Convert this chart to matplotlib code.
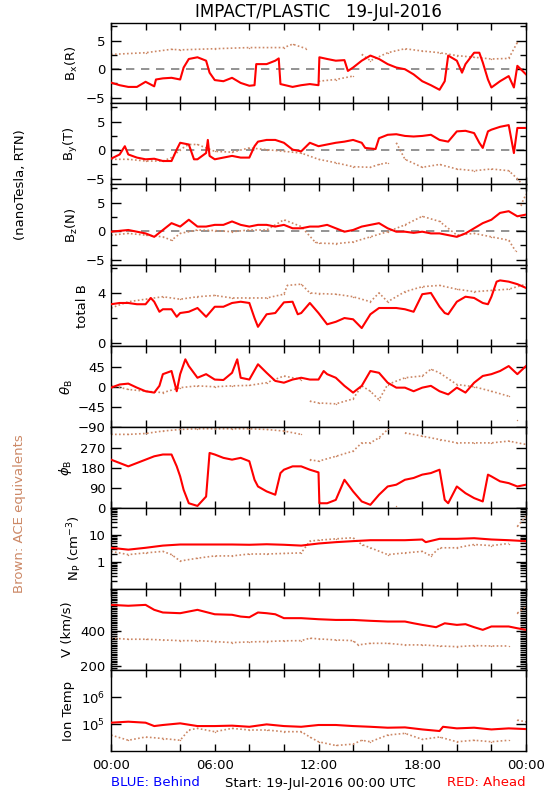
import numpy as np
import matplotlib
matplotlib.use("Agg")
import matplotlib.pyplot as plt
from matplotlib.ticker import FixedLocator, MultipleLocator, LogLocator, NullFormatter, NullLocator, FuncFormatter

plt.rcParams['font.family'] = 'DejaVu Sans'
plt.rcParams['font.size'] = 9.5

RED = '#ff0000'
BROWN = '#cc8866'

# --- STEREO-A (red) and ACE (brown), hours since 19-Jul-2016 00:00 ---
bx_t = [0, 0.5, 1, 1.5, 2, 2.5, 2.6, 3, 3.5, 4, 4.2, 4.5, 5, 5.5, 5.7, 6, 6.5, 7, 7.5, 8, 8.3, 8.4, 9, 9.5, 9.7,
        9.8, 10.5, 11, 11.5, 12, 12.05, 12.5, 13, 13.5, 13.7, 14, 14.5, 15, 15.5, 16, 16.5, 17, 17.5, 18, 18.5,
        19, 19.3, 19.5, 20, 20.3, 20.5, 21, 21.3, 21.5, 21.8, 22, 22.5, 23, 23.3, 23.5, 24]
bx_sta = [-2.35, -2.8, -3.1, -3.1, -2.2, -3.0, -1.8, -1.6, -1.5, -1.8, 0.3, 1.8, 2.1, 1.5, -0.6, -1.9, -2.1, -1.5,
          -2.4, -2.9, -2.8, 0.9, 0.9, 1.5, 1.9, -2.6, -3.1, -2.8, -2.6, -2.8, 2.1, 1.8, 1.5, 1.6, -0.3, 0.3, 1.5,
          2.4, 1.8, 0.9, 0.3, 0.0, -0.9, -2.1, -2.8, -3.6, -2.1, 2.4, 1.5, -0.6, 0.9, 2.9, 2.9, 1.2, -1.8, -3.2,
          -2.1, -1.2, -3.2, 0.6, -0.9]
bx_ace_t = [0, 2, 3.5, 4, 6, 8, 10, 10.5, 11.3, 12, 13, 14, 14.5, 15, 16, 17, 18, 19, 20, 21, 22, 23, 23.5, 24]
bx_ace = [2.6, 2.9, 3.5, 3.4, 3.6, 3.8, 3.8, 4.4, 3.6, -2.1, -1.8, -1.2, 2.6, 1.5, 2.9, 3.6, 3.2, 2.9, 2.4, 2.1,
          1.8, 1.9, 4.7, 7.9]

by_t = [0, 0.5, 0.8, 1, 1.5, 2, 2.5, 3, 3.5, 3.8, 4, 4.5, 4.8, 5, 5.5, 5.6, 5.7, 6, 6.5, 7, 7.5, 8, 8.3, 8.5, 9,
        9.5, 10, 10.5, 11, 11.5, 12, 12.5, 13, 13.5, 14, 14.5, 14.7, 15, 15.3, 15.5, 16, 16.5, 17, 17.5, 18,
        18.5, 19, 19.5, 20, 20.5, 21, 21.3, 21.5, 21.8, 22, 22.5, 23, 23.3, 23.5, 24]
by_sta = [-1.5, -0.75, 0.7, -0.75, -1.3, -1.6, -1.5, -1.9, -1.9, 0.1, 1.3, 1.0, -1.6, -1.6, -0.5, 1.8, -1.0, -1.6,
          -1.3, -1.0, -1.3, -1.3, 0.7, 1.5, 1.8, 1.8, 1.3, 0.1, -0.2, 1.3, 0.7, 1.0, 1.3, 1.5, 1.8, 1.3, 0.4, 0.3,
          0.2, 2.1, 2.7, 2.8, 2.5, 2.4, 2.5, 2.7, 1.8, 1.5, 3.3, 3.4, 3.0, 1.3, 0.4, 3.3, 3.6, 4.1, 4.4, -0.5,
          3.9, 3.9]
by_ace_t = [0, 1, 2, 3, 3.5, 4, 4.5, 5, 6, 7, 8, 9, 10, 11, 12, 13, 14, 15, 15.5, 16, 16.5, 17, 18, 19, 20, 21,
            22, 23, 23.5, 24]
by_ace = [-1.6, -1.6, -1.9, -1.9, -1.3, 0.1, 1.0, 1.0, -0.2, -0.35, 0.4, 0.1, -0.2, -0.5, -1.6, -2.2, -2.9,
          -3.0, -2.5, -2.2, 1.3, -1.6, -3.0, -2.5, -3.3, -3.6, -3.3, -3.6, -5.0, -6.8]

bz_t = [0, 1, 2, 2.5, 3, 3.5, 4, 4.5, 5, 5.5, 6, 6.5, 7, 7.5, 8, 8.5, 9, 9.5, 10, 10.5, 11, 11.5, 12, 12.5, 13,
        13.5, 14, 14.5, 15, 15.5, 16, 16.5, 17, 17.5, 18, 18.5, 19, 19.5, 20, 20.5, 21, 21.5, 22, 22.5, 23,
        23.5, 24]
bz_sta = [-0.1, 0.2, -0.4, -1.0, 0.2, 1.4, 0.8, 2.0, 0.8, 0.8, 1.1, 1.1, 1.7, 1.1, 0.8, 1.1, 1.1, 0.8, 1.1, 0.5,
          0.5, 0.8, 0.8, 1.1, 0.5, -0.1, 0.2, 0.8, 1.1, 1.4, 0.5, -0.1, -0.1, -0.3, -0.1, -0.4, -0.4, -0.7, -1.0,
          -0.4, 0.5, 1.4, 2.0, 3.2, 3.5, 2.6, 2.9]
bz_ace_t = [0, 1, 2, 3, 3.5, 4, 5, 6, 7, 8, 9, 10, 11, 11.8, 12, 13, 14, 15, 16, 17, 18, 19, 20, 21, 22, 23,
            23.4, 23.7, 24]
bz_ace = [-0.7, -0.4, -0.7, -1.0, -1.6, -0.4, 0.2, 0.1, -0.1, 0.2, 0.2, 2.0, 0.8, -1.9, -2.1, -2.2, -1.9, -1.0,
          -0.1, 1.1, 2.6, 1.7, -0.7, -0.4, -1.0, -1.6, -3.5, 4.5, 6.5]

bt_t = [0, 0.5, 1, 1.5, 2, 2.3, 2.5, 2.8, 3, 3.5, 3.8, 4, 4.5, 5, 5.5, 6, 6.5, 7, 7.5, 8, 8.3, 8.5, 9, 9.5, 10,
        10.5, 10.8, 11, 11.5, 12, 12.5, 13, 13.5, 14, 14.5, 15, 15.5, 16, 16.5, 17, 17.5, 18, 18.5, 19, 19.3,
        19.5, 20, 20.5, 21, 21.5, 21.8, 22, 22.3, 22.5, 23, 23.5, 24]
bt_sta = [3.1, 3.2, 3.2, 3.1, 3.1, 3.6, 3.3, 2.5, 2.7, 2.7, 2.1, 2.4, 2.5, 2.8, 2.1, 2.9, 2.9, 3.2, 3.3, 3.2, 2.0,
          1.3, 2.3, 2.4, 3.25, 3.3, 2.3, 2.4, 3.2, 2.4, 1.5, 1.7, 2.0, 1.9, 1.2, 2.3, 2.8, 2.8, 2.8, 2.7, 2.5,
          3.9, 4.0, 2.9, 2.4, 2.3, 3.3, 3.7, 3.6, 3.2, 3.1, 3.7, 4.9, 5.0, 4.9, 4.7, 4.4]
bt_ace_t = [0, 1, 2, 3, 4, 5, 6, 7, 8, 9, 10, 10.2, 11, 11.5, 12, 13, 14, 15, 15.5, 16, 17, 18, 19, 20, 21, 22,
            23, 24]
bt_ace = [2.8, 3.3, 3.5, 3.7, 3.5, 3.7, 3.8, 3.6, 3.6, 3.6, 3.9, 4.6, 4.7, 4.0, 3.95, 3.9, 3.7, 3.3, 4.0, 3.3,
          4.1, 4.5, 4.6, 4.3, 4.1, 4.2, 4.3, 4.7]

th_t = [0, 0.5, 1, 1.5, 2, 2.5, 2.8, 3, 3.5, 3.8, 4, 4.3, 4.5, 5, 5.5, 6, 6.5, 7, 7.3, 7.5, 8, 8.5, 9, 9.5, 10,
        10.5, 11, 11.5, 12, 12.3, 12.5, 13, 13.5, 14, 14.5, 15, 15.5, 16, 16.5, 17, 17.5, 18, 18.5, 19, 19.5,
        20, 20.5, 21, 21.5, 22, 22.5, 23, 23.5, 24]
th_sta = [-2, 5, 7, -2, -10, -13, 2, 28, 35, -10, 28, 61, 46, 20, 28, 16, 15, 31, 61, 20, 16, 50, 31, 13, 9, 16,
          20, 16, 16, 35, 28, 20, 2, -13, 2, 35, 31, 9, -2, -2, -10, -2, 2, -10, -17, -2, -13, 9, 24, 28, 35, 46,
          28, 46]
th_ace_t = [0, 1, 2, 3, 4, 5, 6, 7, 8, 9, 10, 11, 11.5, 12, 13, 14, 14.5, 15, 15.5, 16, 17, 18, 18.5, 19, 20,
            21, 22, 23, 23.5, 24]
th_ace = [3, -6, -10, -13, -2, 2, 0, 2, 3, 9, 24, 16, -32, -36, -38, -27, 2, -10, -29, 5, 20, 24, 39, 31, 5, 0,
          -10, -21, -74, 16]

ph_t = [0, 0.5, 1, 1.5, 2, 2.5, 3, 3.5, 3.8, 4, 4.2, 4.5, 5, 5.5, 5.7, 6, 6.5, 7, 7.5, 8, 8.3, 8.5, 9, 9.5, 9.8,
        10, 10.5, 11, 11.5, 12, 12.05, 12.5, 13, 13.5, 14, 14.5, 15, 15.5, 16, 16.5, 17, 17.5, 18, 18.5, 19,
        19.3, 19.5, 20, 20.5, 21, 21.5, 21.8, 22, 22.5, 23, 23.5, 24]
ph_sta = [217, 202, 187, 202, 217, 232, 240, 240, 187, 142, 82, 22, 10, 52, 247, 240, 225, 217, 225, 210, 127, 97,
          75, 60, 157, 172, 187, 187, 172, 160, 22, 22, 37, 127, 75, 30, 15, 60, 97, 105, 127, 135, 150, 157, 172,
          37, 22, 97, 67, 45, 30, 150, 142, 120, 112, 97, 105]
ph_ace_t = [0, 1, 2, 3, 4, 5, 6, 7, 8, 9, 10, 11, 11.5, 12, 13, 14, 14.5, 15, 15.5, 16, 16.5, 17, 18, 19, 20, 21,
            22, 23, 24]
ph_ace = [330, 330, 334, 345, 352, 355, 355, 355, 355, 352, 345, 330, 217, 210, 232, 255, 292, 292, 315, 352, 10,
          337, 322, 307, 292, 292, 292, 300, 285]

np_t = [0, 1, 2, 3, 4, 5, 6, 7, 8, 9, 10, 11, 12, 13, 14, 15, 16, 17, 18, 18.2, 19, 20, 21, 22, 23, 24]
np_sta = [3.4, 2.9, 3.4, 4.1, 4.5, 4.5, 4.5, 4.5, 4.4, 4.6, 4.4, 4.1, 4.9, 5.5, 6.0, 6.5, 6.5, 6.5, 6.9, 5.5, 7.3,
          7.3, 7.7, 6.9, 6.5, 6.0]
np_ace_t = [0, 1, 2, 3, 3.5, 4, 5, 6, 7, 8, 9, 10, 11, 11.5, 12, 13, 14, 14.5, 15, 16, 17, 18, 18.5, 19, 20, 21,
            22, 23, 23.5, 24]
np_ace = [2.5, 1.9, 2.2, 2.5, 1.9, 1.1, 1.4, 1.7, 1.7, 2.0, 2.0, 2.1, 2.2, 6.0, 6.5, 7.3, 8.0, 4.5, 3.4, 1.9,
          2.2, 2.5, 1.7, 3.4, 3.4, 4.5, 4.1, 4.9, 21, 50]

v_t = [0, 1, 2, 2.5, 3, 4, 5, 6, 7, 7.5, 8, 8.5, 9, 9.5, 10, 11, 12, 13, 14, 15, 16, 17, 17.5, 18, 18.8, 19.3,
       20, 20.5, 21, 21.5, 22, 23, 23.5, 24]
v_sta = [545, 540, 545, 517, 502, 498, 517, 492, 489, 479, 475, 502, 498, 492, 470, 470, 464, 460, 460, 455, 451,
         451, 441, 432, 419, 441, 432, 436, 419, 404, 423, 423, 413, 404]
v_ace_t = [0, 1, 2, 3, 4, 5, 6, 7, 8, 9, 10, 11, 11.5, 12, 13, 14, 14.3, 15, 16, 17, 18, 19, 20, 21, 22, 23,
           23.5, 24]
v_ace = [357, 351, 351, 347, 343, 343, 338, 332, 336, 338, 342, 343, 357, 353, 347, 343, 319, 328, 328, 319, 319,
         313, 309, 315, 313, 313, 498, 536]

tp_t = [0, 1, 2, 2.5, 3, 4, 5, 6, 7, 8, 9, 10, 11, 12, 13, 14, 15, 16, 17, 18, 19, 19.2, 20, 21, 22, 23, 24]
tp_sta = [1.12e5, 1.22e5, 1.12e5, 0.84e5, 0.92e5, 1.06e5, 0.84e5, 0.84e5, 0.87e5, 0.79e5, 0.97e5, 0.84e5,
          0.79e5, 0.92e5, 0.92e5, 0.84e5, 0.79e5, 0.73e5, 0.75e5, 0.63e5, 0.55e5, 0.79e5, 0.69e5, 0.73e5,
          0.63e5, 0.69e5, 0.65e5]
tp_ace_t = [0, 1, 2, 3, 4, 4.5, 5, 6, 7, 8, 9, 10, 11, 11.5, 12, 13, 14, 14.5, 15, 16, 17, 18, 19, 20, 21, 22,
            23, 23.5, 24]
tp_ace = [0.39e5, 0.25e5, 0.33e5, 0.29e5, 0.25e5, 0.60e5, 0.69e5, 0.52e5, 0.69e5, 0.60e5, 0.60e5, 0.52e5,
          0.52e5, 0.33e5, 0.22e5, 0.16e5, 0.18e5, 0.25e5, 0.22e5, 0.39e5, 0.45e5, 0.27e5, 0.33e5, 0.22e5,
          0.25e5, 0.22e5, 0.25e5, 1.4e5, 1.2e5]


def split(t, v, jump, log=False):
    # break the ACE trace where it jumps (wrap-arounds, data gaps)
    t = np.asarray(t, float)
    v = np.asarray(v, float)
    w = np.log10(v) if log else v
    idx = np.where(np.abs(np.diff(w)) > jump)[0] + 1
    return np.insert(t, idx, np.nan), np.insert(v, idx, np.nan)


b_ticks = ([-5, 0, 5], ['\u22125', '0', '5'])
panels = [
    dict(label='B$_\\mathregular{x}$(R)', sta=(bx_t, bx_sta), ace=(bx_ace_t, bx_ace), ylim=(-6.0, 8.2),
         ticks=b_ticks, minor=2.5, zero=True, jump=3, lx=80),
    dict(label='B$_\\mathregular{y}$(T)', sta=(by_t, by_sta), ace=(by_ace_t, by_ace), ylim=(-6.0, 8.2),
         ticks=b_ticks, minor=2.5, zero=True, jump=3, lx=80),
    dict(label='B$_\\mathregular{z}$(N)', sta=(bz_t, bz_sta), ace=(bz_ace_t, bz_ace), ylim=(-6.0, 8.2),
         ticks=b_ticks, minor=2.5, zero=True, jump=3, lx=80),
    dict(label='total B', sta=(bt_t, bt_sta), ace=(bt_ace_t, bt_ace), ylim=(-0.25, 6.2),
         ticks=([0, 4], ['0', '4']), minor=2, jump=1.5, lx=89),
    dict(label='$\\theta_\\mathregular{B}$', sta=(th_t, th_sta), ace=(th_ace_t, th_ace), ylim=(-90, 90),
         ticks=([-90, -45, 0, 45], ['\u221290', '\u221245', '0', '45']), jump=40, lx=75),
    dict(label='$\\phi_\\mathregular{B}$', sta=(ph_t, ph_sta), ace=(ph_ace_t, ph_ace), ylim=(0, 362),
         ticks=([0, 90, 180, 270], ['0', '90', '180', '270']), jump=90, lx=74),
    dict(label='N$_\\mathregular{P}$ (cm$^{-3}$)', sta=(np_t, np_sta), ace=(np_ace_t, np_ace), ylim=(0.1, 100),
         ticks=([1, 10], ['1', '10']), log=True, logminor=True, jump=0.5, lx=84),
    dict(label='V (km/s)', sta=(v_t, v_sta), ace=(v_ace_t, v_ace), ylim=(177, 634),
         ticks=([200, 400], ['200', '400']), minor=10, jump=100, lx=73),
    dict(label='Ion Temp', sta=(tp_t, tp_sta), ace=(tp_ace_t, tp_ace), ylim=(1e4, 1e7),
         ticks=([1e5, 1e6], ['10$^5$', '10$^6$']), log=True, jump=0.5, lx=75),
]

W, H = 550, 800
x0, x1 = 111, 526
top, bottom = 22.5, 751
ph = (bottom - top) / len(panels)

fig = plt.figure(figsize=(5.5, 8), dpi=100)

for i, p in enumerate(panels):
    ytop = top + i * ph
    ax = fig.add_axes([x0 / W, 1 - (ytop + ph) / H, (x1 - x0) / W, ph / H])
    log = p.get('log', False)
    if log:
        ax.set_yscale('log')
    if p.get('zero'):
        ax.axhline(0, color='#808080', lw=1.2, ls=(0, (5, 4)), zorder=1)

    ta, va = split(*p['ace'], p['jump'], log)
    ax.plot(ta, va, color=BROWN, lw=1.2, ls=(0, (1, 1.4)), marker='.', ms=2, mew=0, zorder=2)
    ax.plot(*p['sta'], color=RED, lw=1.5, zorder=3)

    ax.set_xlim(0, 24)
    ax.set_ylim(*p['ylim'])
    ax.set_yticks(p['ticks'][0])
    ax.set_yticklabels(p['ticks'][1])
    if 'minor' in p:
        ax.yaxis.set_minor_locator(MultipleLocator(p['minor']))
    elif p.get('logminor'):
        ax.yaxis.set_minor_locator(LogLocator(base=10, subs=np.arange(2, 10)))
        ax.yaxis.set_minor_formatter(NullFormatter())
    else:
        ax.yaxis.set_minor_locator(NullLocator())

    ax.xaxis.set_major_locator(FixedLocator(list(range(0, 25, 2))))
    if i == len(panels) - 1:
        ax.xaxis.set_major_formatter(FuncFormatter(lambda h, pos: '%02d:00' % (int(h) % 24) if int(h) % 6 == 0 else ''))
    else:
        ax.set_xticklabels([])

    ax.tick_params(axis='x', which='both', direction='in', top=True, bottom=True, length=5, width=1, pad=6)
    ax.tick_params(axis='y', which='major', direction='in', left=True, right=True, length=7, width=1, pad=4)
    ax.tick_params(axis='y', which='minor', direction='in', left=True, right=True, length=4, width=1)
    for s in ax.spines.values():
        s.set_linewidth(1.0)

    ax.set_ylabel(p['label'])
    ax.yaxis.set_label_coords((p['lx'] - x0) / (x1 - x0), 0.5)

fig.text(318.5 / W, 1 - 12 / H, 'IMPACT/PLASTIC   19-Jul-2016', ha='center', va='center', fontsize=12)
fig.text(21 / W, 1 - 185 / H, '(nanoTesla, RTN)', rotation=90, ha='center', va='center')
fig.text(20 / W, 1 - 514 / H, 'Brown: ACE equivalents', rotation=90, ha='center', va='center', color=BROWN)
fig.text(x0 / W, 1 - 783 / H, 'BLUE: Behind', ha='left', va='center', color='blue')
fig.text(320 / W, 1 - 783 / H, 'Start: 19-Jul-2016 00:00 UTC', ha='center', va='center')
fig.text(x1 / W, 1 - 783 / H, 'RED: Ahead', ha='right', va='center', color=RED)

fig.savefig('out.png', dpi=100)
